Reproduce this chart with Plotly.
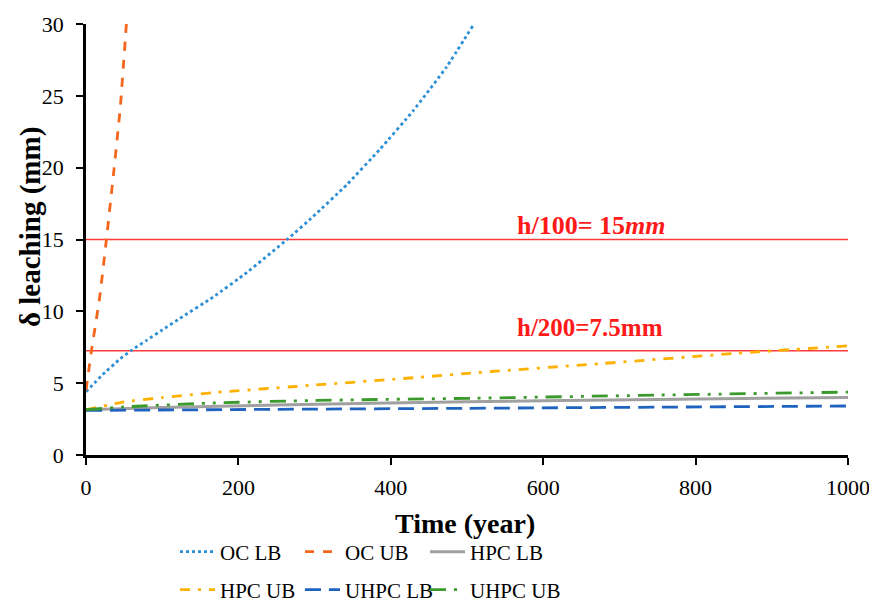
import plotly.graph_objects as go

# ---- data ----
oc_lb_x = [0, 20, 45, 60, 80, 100, 123, 167, 211, 265, 298, 342, 386, 430, 473, 508]
oc_lb_y = [4.4, 5.5, 6.7, 7.3, 8.0, 8.7, 9.5, 11.0, 12.7, 15.05, 16.6, 18.8, 21.3, 24.0, 27.0, 29.9]

oc_ub_x = [0, 7, 18, 27, 36, 45, 53]
oc_ub_y = [4.5, 7.2, 11.0, 15.1, 19.5, 24.2, 30.0]

hpc_lb_x = [0, 100, 250, 500, 750, 1000]
hpc_lb_y = [3.15, 3.3, 3.48, 3.7, 3.87, 4.0]

hpc_ub_x = [0, 50, 100, 167, 300, 430, 505, 680, 855, 1000]
hpc_ub_y = [3.15, 3.7, 4.0, 4.34, 4.87, 5.38, 5.7, 6.38, 7.08, 7.6]

uhpc_lb_x = [0, 250, 500, 750, 1000]
uhpc_lb_y = [3.1, 3.18, 3.25, 3.33, 3.41]

uhpc_ub_x = [0, 50, 167, 300, 508, 750, 1000]
uhpc_ub_y = [3.15, 3.35, 3.62, 3.8, 3.95, 4.17, 4.38]

limit_x = [0, 1000]
limit_h100 = [15.0, 15.0]
limit_h200 = [7.25, 7.25]

x_ticks = [0, 200, 400, 600, 800, 1000]
y_ticks = [0, 5, 10, 15, 20, 25, 30]

FONT = "Liberation Serif, Times New Roman, serif"

# page body has an 8px margin: figure origin sits at screen (8, 8)
W, H = 869, 599
L, R, T, B = 78, 29, 16, 152
PW = W - L - R
PH = H - T - B


def px_x(screen_x):
    return (screen_x - 8 - L) / PW


def paper_y(screen_y):
    return 1 - (screen_y - 8 - T) / PH


def cont_y(screen_y):
    return 1 - (screen_y - 8) / H


fig = go.Figure()

# limit lines
for ly in (limit_h100, limit_h200):
    fig.add_trace(go.Scatter(x=limit_x, y=ly, mode="lines",
                             line=dict(color="#ff3a3a", width=1.5),
                             showlegend=False, hoverinfo="skip"))

series = [
    ("OC LB", oc_lb_x, oc_lb_y, "#2b8fd6", "dot", 2.8, "legend", 180, 552),
    ("OC UB", oc_ub_x, oc_ub_y, "#f4661b", "dash", 2.8, "legend2", 305, 552),
    ("HPC LB", hpc_lb_x, hpc_lb_y, "#a0a0a0", "solid", 3, "legend3", 430, 552),
    ("HPC UB", hpc_ub_x, hpc_ub_y, "#fdb100", "10px,8px,3px,8px", 2.8, "legend4", 180, 590),
    ("UHPC LB", uhpc_lb_x, uhpc_lb_y, "#1f63c0", "16px,8px", 2.8, "legend5", 305, 590),
    ("UHPC UB", uhpc_ub_x, uhpc_ub_y, "#3a9a2b", "16px,8px,3px,8px,3px,8px", 2.8, "legend6", 430, 590),
]
legends = {}
for name, xs, ys, col, dash, w, lg, lx, ly in series:
    fig.add_trace(go.Scatter(x=xs, y=ys, mode="lines", name=name,
                             line=dict(color=col, dash=dash, width=w, shape="spline", smoothing=0.4),
                             legend=lg))
    legends[lg] = dict(orientation="h", xref="paper", yref="container",
                       x=px_x(lx - 5), y=cont_y(ly),
                       xanchor="left", yanchor="middle",
                       font=dict(family=FONT, size=21, color="#000"),
                       bgcolor="rgba(0,0,0,0)", itemwidth=35)

fig.add_annotation(x=px_x(515), xref="paper", y=16.0, yref="y",
                   text="<b>h/100= 15<i>mm</i></b>", showarrow=False,
                   xanchor="left", yanchor="middle",
                   font=dict(family=FONT, size=26, color="#ff1a1a"))
fig.add_annotation(x=px_x(515), xref="paper", y=8.9, yref="y",
                   text="<b>h/200=7.5mm</b>", showarrow=False,
                   xanchor="left", yanchor="middle",
                   font=dict(family=FONT, size=25, color="#ff1a1a"))

# axis titles
fig.add_annotation(x=px_x(31), xref="paper", y=paper_y(227), yref="paper",
                   text="<b>δ leaching (mm)</b>", textangle=-90, showarrow=False,
                   xanchor="center", yanchor="middle",
                   font=dict(family=FONT, size=29, color="#000"))
fig.add_annotation(x=px_x(465), xref="paper", y=paper_y(523), yref="paper",
                   text="<b>Time (year)</b>", showarrow=False,
                   xanchor="center", yanchor="middle",
                   font=dict(family=FONT, size=28, color="#000"))

fig.update_layout(
    width=W, height=H,
    paper_bgcolor="white", plot_bgcolor="white",
    margin=dict(l=L, r=R, t=T, b=B),
    font=dict(family=FONT, size=22, color="#000"),
    xaxis=dict(range=[0, 1000], tickvals=x_ticks, showgrid=False, zeroline=False,
               showline=True, linecolor="black", linewidth=2.8, automargin=False,
               ticks="outside", ticklen=7, tickwidth=2.2, tickcolor="black",
               ticklabelstandoff=4,
               tickfont=dict(family=FONT, size=22)),
    yaxis=dict(range=[0, 30], tickvals=y_ticks, showgrid=False, zeroline=False,
               showline=True, linecolor="black", linewidth=2.8, automargin=False,
               ticks="outside", ticklen=7, tickwidth=2.2, tickcolor="black",
               ticklabelstandoff=8,
               tickfont=dict(family=FONT, size=22)),
    **legends,
)

fig.write_html("out.html")
